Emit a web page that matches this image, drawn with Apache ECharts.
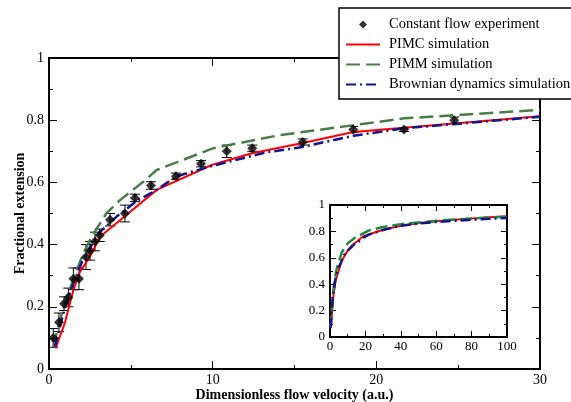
<!DOCTYPE html>
<html>
<head>
<meta charset="utf-8">
<script src="https://cdn.jsdelivr.net/npm/echarts@6/dist/echarts.min.js"></script>
<style>
    html, body { margin: 0; padding: 0; background: #fff; }
    #chart { width: 571px; height: 402px; }
</style>
</head>
<body>
<div id="chart"></div>
<script>
// 实验数据
var expX = [0.26, 0.61, 0.92, 1.18, 1.49, 1.83, 2.26, 2.5, 2.81, 3.1, 3.73, 4.64, 5.25, 6.23, 7.76, 9.29, 10.86, 12.42, 15.5, 18.59, 21.69, 24.76];
var expY = [0.10, 0.15, 0.21, 0.23, 0.29, 0.29, 0.36, 0.38, 0.41, 0.43, 0.48, 0.50, 0.55, 0.59, 0.62, 0.66, 0.70, 0.71, 0.73, 0.77, 0.77, 0.80];
var expErr = [0.03, 0.03, 0.022, 0.03, 0.035, 0.035, 0.04, 0.03, 0.03, 0.02, 0.02, 0.027, 0.012, 0.012, 0.01, 0.01, 0.02, 0.01, 0.01, 0.01, 0.006, 0.01];

// 模拟曲线
var pimcX = [0.4, 0.98, 1.49, 1.9, 2.5, 3.12, 6.58, 9.94, 12.4, 15.5, 18.6, 21.7, 30];
var pimcY = [0.066, 0.15, 0.254, 0.313, 0.361, 0.425, 0.576, 0.656, 0.694, 0.727, 0.762, 0.776, 0.813];
var pimmX = [0.26, 0.67, 1.18, 1.69, 2.1, 2.6, 3.5, 4.34, 5.76, 6.58, 10.04, 14.1, 21.7, 30];
var pimmY = [0.072, 0.158, 0.243, 0.318, 0.372, 0.425, 0.5, 0.543, 0.602, 0.64, 0.71, 0.752, 0.806, 0.833];
var bdX = [0.37, 0.98, 1.49, 2.1, 3.1, 4.13, 5.36, 6.58, 7.8, 10.04, 13.3, 15.3, 18.6, 21.7, 30];
var bdY = [0.072, 0.2, 0.276, 0.355, 0.44, 0.49, 0.54, 0.576, 0.62, 0.654, 0.697, 0.712, 0.75, 0.774, 0.811];

// 小图中 x > 30 的部分
var extX = [40, 50, 60, 70, 80, 90, 100];
var pimcExtY = [0.843, 0.862, 0.876, 0.888, 0.898, 0.907, 0.915];
var pimmExtY = [0.855, 0.868, 0.88, 0.89, 0.898, 0.905, 0.912];
var bdExtY = [0.843, 0.86, 0.872, 0.88, 0.888, 0.895, 0.902];

var names = ['Constant flow experiment', 'PIMC simulation', 'PIMM simulation', 'Brownian dynamics simulation'];

var serif = '"Liberation Serif", "Times New Roman", serif';

function pairs(xs, ys) {
    var out = [];
    for (var i = 0; i < xs.length; i++) {
        out.push([xs[i], ys[i]]);
    }
    return out;
}

function axis(gridIndex, position, min, max, interval, opts) {
    var a = {
        type: 'value',
        gridIndex: gridIndex,
        position: position,
        min: min,
        max: max,
        interval: interval,
        splitLine: { show: false },
        axisLine: { show: true, onZero: false, lineStyle: { color: '#000', width: 2 } },
        axisTick: { show: true, inside: true, length: opts.tick, lineStyle: { color: '#000', width: 1 } },
        minorTick: { show: true, splitNumber: 2, length: opts.minor, lineStyle: { color: '#000', width: 1 } },
        axisLabel: {
            show: opts.label,
            color: '#000',
            fontFamily: serif,
            fontSize: opts.fontSize,
            margin: opts.margin,
            formatter: function (v) { return String(+v.toFixed(1)); }
        }
    };
    if (opts.name) {
        a.name = opts.name;
        a.nameLocation = 'middle';
        a.nameGap = opts.nameGap;
        a.nameMoveOverlap = false;
        a.nameTextStyle = { color: '#000', fontFamily: serif, fontSize: 14, fontWeight: 'bold' };
    }
    return a;
}

var red = '#ff0000';
var green = '#4a7d4a';
var greenInset = '#1e8c3c';
var navy = '#14148c';
var dashDot = [10, 4, 2, 4];

// 图例里的小菱形，两端的空点用来撑开图标宽度
var diamondIcon = 'path://M0,0L0,0M34,10L34,10M17,1L21,5L17,9L13,5Z';

var errData = [];
for (var i = 0; i < expX.length; i++) {
    errData.push([expX[i], expY[i] - expErr[i], expY[i] + expErr[i]]);
}

var chart = echarts.init(document.getElementById('chart'), null, { renderer: 'canvas' });

var option = {
    backgroundColor: '#fff',
    animation: false,
    textStyle: { fontFamily: serif },
    grid: [
        { left: 49, top: 58, width: 491, height: 311, show: false, outerBoundsMode: 'none', containLabel: false },
        { left: 330, top: 205, width: 177, height: 132, show: true, backgroundColor: '#fff', borderWidth: 0, outerBoundsMode: 'none', containLabel: false }
    ],
    xAxis: [
        axis(0, 'bottom', 0, 30, 10, { tick: 8, minor: 4, label: true, fontSize: 14, margin: 4, name: 'Dimensionless flow velocity (a.u.)', nameGap: 19 }),
        axis(0, 'top', 0, 30, 10, { tick: 8, minor: 4, label: false }),
        axis(1, 'bottom', 0, 100, 20, { tick: 6, minor: 3, label: true, fontSize: 13, margin: 3 }),
        axis(1, 'top', 0, 100, 20, { tick: 6, minor: 3, label: false })
    ],
    yAxis: [
        axis(0, 'left', 0, 1, 0.2, { tick: 8, minor: 4, label: true, fontSize: 14, margin: 5, name: 'Fractional extension', nameGap: 22 }),
        axis(0, 'right', 0, 1, 0.2, { tick: 8, minor: 4, label: false }),
        axis(1, 'left', 0, 1, 0.2, { tick: 6, minor: 3, label: true, fontSize: 13, margin: 5 }),
        axis(1, 'right', 0, 1, 0.2, { tick: 6, minor: 3, label: false })
    ],
    legend: {
        orient: 'vertical',
        left: 339,
        top: 8,
        padding: [9, 3, 7, 6],
        itemWidth: 34,
        itemHeight: 10,
        itemGap: 5,
        backgroundColor: '#fff',
        borderColor: '#000',
        borderWidth: 1.5,
        borderRadius: 0,
        z: 10,
        selectedMode: false,
        textStyle: { color: '#000', fontFamily: serif, fontSize: 14.5, padding: [0, 0, 0, 4] },
        data: [
            { name: names[0], icon: diamondIcon },
            { name: names[1], itemStyle: { opacity: 0 } },
            { name: names[2], itemStyle: { opacity: 0 } },
            { name: names[3], itemStyle: { opacity: 0 } }
        ]
    },
    series: [
        {
            name: 'errorbars',
            type: 'custom',
            xAxisIndex: 0,
            yAxisIndex: 0,
            data: errData,
            z: 3,
            renderItem: function (params, api) {
                var top = api.coord([api.value(0), api.value(2)]);
                var bottom = api.coord([api.value(0), api.value(1)]);
                var cap = 5;
                var style = { stroke: '#000', lineWidth: 1 };
                return {
                    type: 'group',
                    children: [
                        { type: 'line', shape: { x1: top[0], y1: top[1], x2: bottom[0], y2: bottom[1] }, style: style },
                        { type: 'line', shape: { x1: top[0] - cap, y1: top[1], x2: top[0] + cap, y2: top[1] }, style: style },
                        { type: 'line', shape: { x1: bottom[0] - cap, y1: bottom[1], x2: bottom[0] + cap, y2: bottom[1] }, style: style }
                    ]
                };
            }
        },
        {
            name: names[0],
            type: 'scatter',
            xAxisIndex: 0,
            yAxisIndex: 0,
            symbol: 'diamond',
            symbolSize: 10,
            itemStyle: { color: '#000' },
            z: 4,
            data: pairs(expX, expY)
        },
        {
            name: names[1],
            type: 'line',
            xAxisIndex: 0,
            yAxisIndex: 0,
            symbol: 'none',
            color: red,
            lineStyle: { color: red, width: 2 },
            data: pairs(pimcX, pimcY)
        },
        {
            name: names[2],
            type: 'line',
            xAxisIndex: 0,
            yAxisIndex: 0,
            symbol: 'none',
            color: green,
            lineStyle: { color: green, width: 2.5, type: [14, 6] },
            data: pairs(pimmX, pimmY)
        },
        {
            name: names[3],
            type: 'line',
            xAxisIndex: 0,
            yAxisIndex: 0,
            symbol: 'none',
            color: navy,
            lineStyle: { color: navy, width: 2.5, type: dashDot },
            data: pairs(bdX, bdY)
        },
        // 小图
        {
            name: 'inset-pimc',
            type: 'line',
            xAxisIndex: 2,
            yAxisIndex: 2,
            symbol: 'none',
            z: 5,
            lineStyle: { color: red, width: 2 },
            data: pairs(pimcX.concat(extX), pimcY.concat(pimcExtY))
        },
        {
            name: 'inset-pimm',
            type: 'line',
            xAxisIndex: 2,
            yAxisIndex: 2,
            symbol: 'none',
            z: 5,
            lineStyle: { color: greenInset, width: 2.5, type: [12, 5] },
            data: pairs(pimmX.concat(extX), pimmY.concat(pimmExtY))
        },
        {
            name: 'inset-bd',
            type: 'line',
            xAxisIndex: 2,
            yAxisIndex: 2,
            symbol: 'none',
            z: 5,
            lineStyle: { color: navy, width: 2.5, type: dashDot },
            data: pairs(bdX.concat(extX), bdY.concat(bdExtY))
        }
    ]
};

chart.setOption(option);
</script>
</body>
</html>
